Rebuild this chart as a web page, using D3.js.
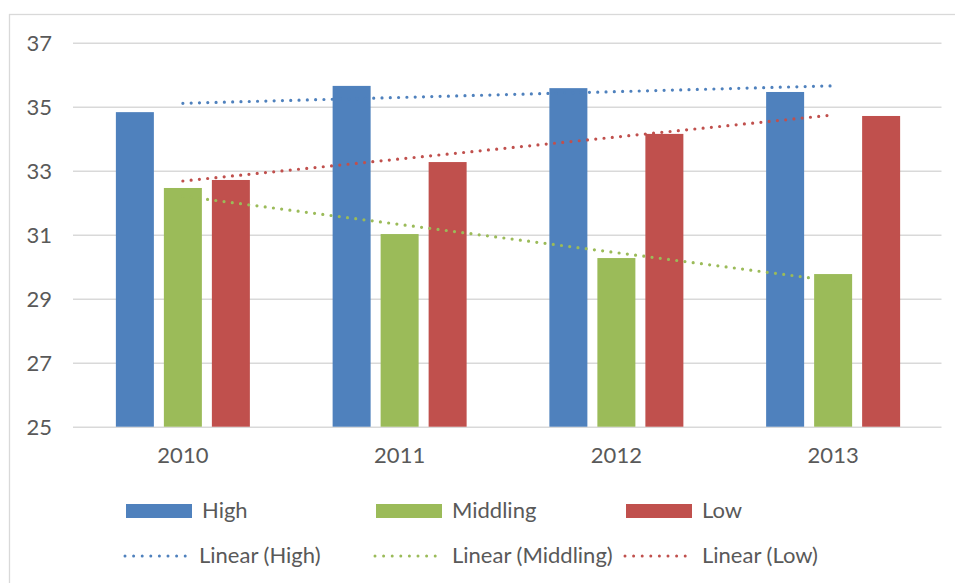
<!DOCTYPE html>
<html>
<head>
<meta charset="utf-8">
<script src="https://cdn.jsdelivr.net/npm/d3@7/dist/d3.min.js"></script>
<style>
  html, body { margin: 0; padding: 0; background: #fff; }
  svg { display: block; }
</style>
</head>
<body>
<svg id="chart" width="955" height="583"></svg>
<script>
// Survey values by year and group
const years = ["2010", "2011", "2012", "2013"];
const seriesNames = ["High", "Middling", "Low"];
const high = [34.83, 35.65, 35.58, 35.46];
const middling = [32.46, 31.02, 30.27, 29.77];
const low = [32.71, 33.27, 34.15, 34.71];
const yTicks = [25, 27, 29, 31, 33, 35, 37];

const colors = { High: "#4F81BD", Middling: "#9BBB59", Low: "#C0504D" };
const valuesBySeries = { High: high, Middling: middling, Low: low };
const FONT = "Lato, 'Open Sans', sans-serif";
const TEXT = "#595959";

const svg = d3.select("#chart");
const W = 955, H = 583;
const plot = { left: 74.5, right: 941.5, top: 42.7, bottom: 426.7 };

// chart frame
svg.append("rect")
  .attr("x", 9.5).attr("y", 14.5)
  .attr("width", W + 10).attr("height", H + 10)
  .attr("fill", "none").attr("stroke", "#d9d9d9").attr("stroke-width", 1.3);

const x0 = d3.scaleBand().domain(years).range([plot.left, plot.right]).paddingInner(0).paddingOuter(0);
const x1 = d3.scaleBand().domain(seriesNames).range([-67, 67]).paddingInner(10 / 48).paddingOuter(0);
const y = d3.scaleLinear().domain([25, 37]).range([plot.bottom, plot.top]);

// gridlines + y labels
const yAxis = svg.append("g")
  .attr("transform", `translate(${plot.left - 1.5},0)`)
  .call(d3.axisLeft(y).tickValues(yTicks).tickSize(-(plot.right - plot.left + 1.5)).tickPadding(21).tickFormat(d3.format("d")));
yAxis.attr("font-family", FONT).attr("font-size", 22);
yAxis.select(".domain").remove();
yAxis.selectAll(".tick line").attr("stroke", "#d9d9d9").attr("stroke-width", 1.4);
yAxis.selectAll(".tick text").attr("fill", TEXT).attr("dy", "0.36em");

// x labels
const xAxis = svg.append("g")
  .attr("transform", `translate(0,${plot.bottom})`)
  .call(d3.axisBottom(x0).tickSize(0).tickPadding(21));
xAxis.attr("font-family", FONT).attr("font-size", 22);
xAxis.select(".domain").remove();
xAxis.selectAll(".tick text").attr("fill", TEXT).attr("dy", "0.71em").attr("y", 21);

// bars
const rows = [];
years.forEach((yr, i) => seriesNames.forEach(s => rows.push({ year: yr, series: s, value: valuesBySeries[s][i] })));
svg.append("g").selectAll("rect").data(rows).join("rect")
  .attr("x", d => x0(d.year) + x0.bandwidth() / 2 + x1(d.series))
  .attr("width", x1.bandwidth())
  .attr("y", d => y(d.value))
  .attr("height", d => y(25) - y(d.value))
  .attr("fill", d => colors[d.series]);

// linear trend lines (least squares over year index)
function linearFit(vals) {
  const n = vals.length;
  const xs = d3.range(n);
  const mx = d3.mean(xs), my = d3.mean(vals);
  const slope = d3.sum(xs, (xv, i) => (xv - mx) * (vals[i] - my)) / d3.sum(xs, xv => (xv - mx) ** 2);
  return xv => my + slope * (xv - mx);
}
const center = yr => x0(yr) + x0.bandwidth() / 2;
const trendG = svg.append("g");
seriesNames.forEach(s => {
  const f = linearFit(valuesBySeries[s]);
  const pts = years.map((yr, i) => [center(yr), y(f(i))]);
  trendG.append("path")
    .attr("d", d3.line()([pts[0], pts[pts.length - 1]]))
    .attr("fill", "none")
    .attr("stroke", colors[s])
    .attr("stroke-width", 3.2)
    .attr("stroke-linecap", "round")
    .attr("stroke-dasharray", "0 8.3");
});

// legend
const legendCols = [126, 376, 626];
const legend = svg.append("g").attr("font-family", FONT).attr("font-size", 22).attr("fill", TEXT);
seriesNames.forEach((s, i) => {
  const lx = legendCols[i];
  legend.append("rect").attr("x", lx).attr("y", 504).attr("width", 66).attr("height", 14).attr("fill", colors[s]);
  legend.append("text").attr("x", lx + 76).attr("y", 518).text(s);
  legend.append("line")
    .attr("x1", lx - 1).attr("x2", lx + 60).attr("y1", 556).attr("y2", 556)
    .attr("stroke", colors[s]).attr("stroke-width", 3).attr("stroke-linecap", "round")
    .attr("stroke-dasharray", "0 8.6");
  legend.append("text").attr("x", lx + 73 + (i === 0 ? 0 : 3)).attr("y", 563).text(`Linear (${s})`);
});
</script>
</body>
</html>
